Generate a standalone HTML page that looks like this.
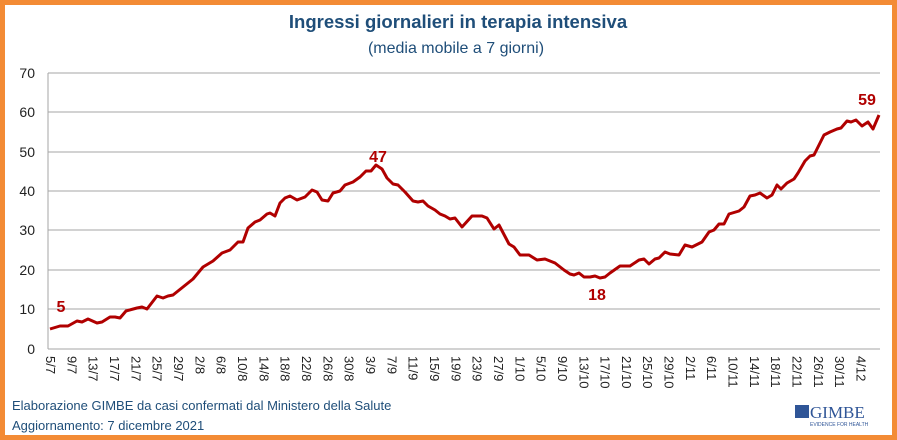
<!DOCTYPE html>
<html><head><meta charset="utf-8"><style>
body{margin:0;background:#fff}
svg{display:block;font-family:"Liberation Sans",sans-serif}
</style></head><body>
<svg width="897" height="440" viewBox="0 0 897 440">
<rect x="2.5" y="2.5" width="892" height="435" fill="#fff" stroke="#f38b35" stroke-width="5"/>
<text x="458" y="28" text-anchor="middle" font-size="18.5" font-weight="bold" fill="#1f4e79">Ingressi giornalieri in terapia intensiva</text>
<text x="456" y="53" text-anchor="middle" font-size="16" fill="#1f4e79">(media mobile a 7 giorni)</text>
<g stroke="#a6a6a6" stroke-width="1">
<line x1="48" y1="73" x2="880" y2="73"/><line x1="48" y1="112" x2="880" y2="112"/>
<line x1="48" y1="152" x2="880" y2="152"/><line x1="48" y1="191" x2="880" y2="191"/>
<line x1="48" y1="230" x2="880" y2="230"/><line x1="48" y1="270" x2="880" y2="270"/>
<line x1="48" y1="309" x2="880" y2="309"/><line x1="48" y1="349" x2="880" y2="349"/>
<line x1="48" y1="73" x2="48" y2="349"/>
</g>
<g font-size="14" fill="#222" text-anchor="end">
<text x="35" y="78">70</text><text x="35" y="117">60</text><text x="35" y="157">50</text>
<text x="35" y="196">40</text><text x="35" y="235">30</text><text x="35" y="275">20</text>
<text x="35" y="314">10</text><text x="35" y="354">0</text>
</g>
<polyline fill="none" stroke="#b00000" stroke-width="3" stroke-linejoin="round" points="50,329 60,326 68,326 77,321 82,322 88,319 97,323 102,322 110,317 115,317 120,318 126,311 137,308 142,307 147,309 157,296 163,298 168,296 173,295 183,287 193,279 203,267 213,261 222,253 230,250 238,242 243,242 248,228 255,222 260,220 267,214 270,213 275,216 280,203 285,198 290,196 297,200 305,197 312,190 317,192 322,200 328,201 333,193 340,191 345,185 353,182 360,177 366,171 371,171 376,165 382,169 387,178 393,184 398,185 405,192 413,201 418,202 423,201 428,206 435,210 440,214 445,216 450,219 455,218 462,227 472,216 482,216 487,218 494,229 499,225 509,244 514,247 520,255 529,255 537,260 545,259 555,263 564,270 570,274 574,275 579,273 584,277 590,277 595,276 600,278 605,277 610,273 620,266 630,266 639,260 644,259 649,264 655,259 659,258 665,252 670,254 679,255 685,245 692,247 702,242 709,232 714,230 719,224 724,224 729,214 739,211 744,207 750,196 755,195 760,193 767,198 772,195 777,185 781,189 787,183 794,179 798,173 805,161 810,156 814,155 824,135 830,132 837,129 841,128 847,121 851,122 856,120 862,126 868,122 873,129 879,115"/>
<g font-size="16" font-weight="bold" fill="#b00000" text-anchor="middle">
<text x="61" y="312">5</text><text x="378" y="162">47</text><text x="597" y="300">18</text><text x="867" y="105">59</text>
</g>
<g font-size="13" fill="#222" id="xl"></g>
<text x="12" y="410" font-size="13" fill="#1f4e79">Elaborazione GIMBE da casi confermati dal Ministero della Salute</text>
<text x="12" y="430" font-size="13" fill="#1f4e79">Aggiornamento:  7 dicembre  2021</text>
<rect x="795" y="405" width="14" height="13" fill="#2f5597"/>
<text x="810" y="418" font-size="17" font-family="Liberation Serif,serif" fill="#2f5597">GIMBE</text>
<text x="810" y="426" font-size="5" fill="#2f5597">EVIDENCE FOR HEALTH</text>
</svg>
<script>
var labels=["5/7","9/7","13/7","17/7","21/7","25/7","29/7","2/8","6/8","10/8","14/8","18/8","22/8","26/8","30/8","3/9","7/9","11/9","15/9","19/9","23/9","27/9","1/10","5/10","9/10","13/10","17/10","21/10","25/10","29/10","2/11","6/11","10/11","14/11","18/11","22/11","26/11","30/11","4/12"];
var g=document.getElementById("xl"),ns="http://www.w3.org/2000/svg";
labels.forEach(function(l,i){var x=46+i*21.33;var t=document.createElementNS(ns,"text");t.setAttribute("transform","translate("+x+",356) rotate(90)");t.textContent=l;g.appendChild(t);});
</script>
</body></html>
